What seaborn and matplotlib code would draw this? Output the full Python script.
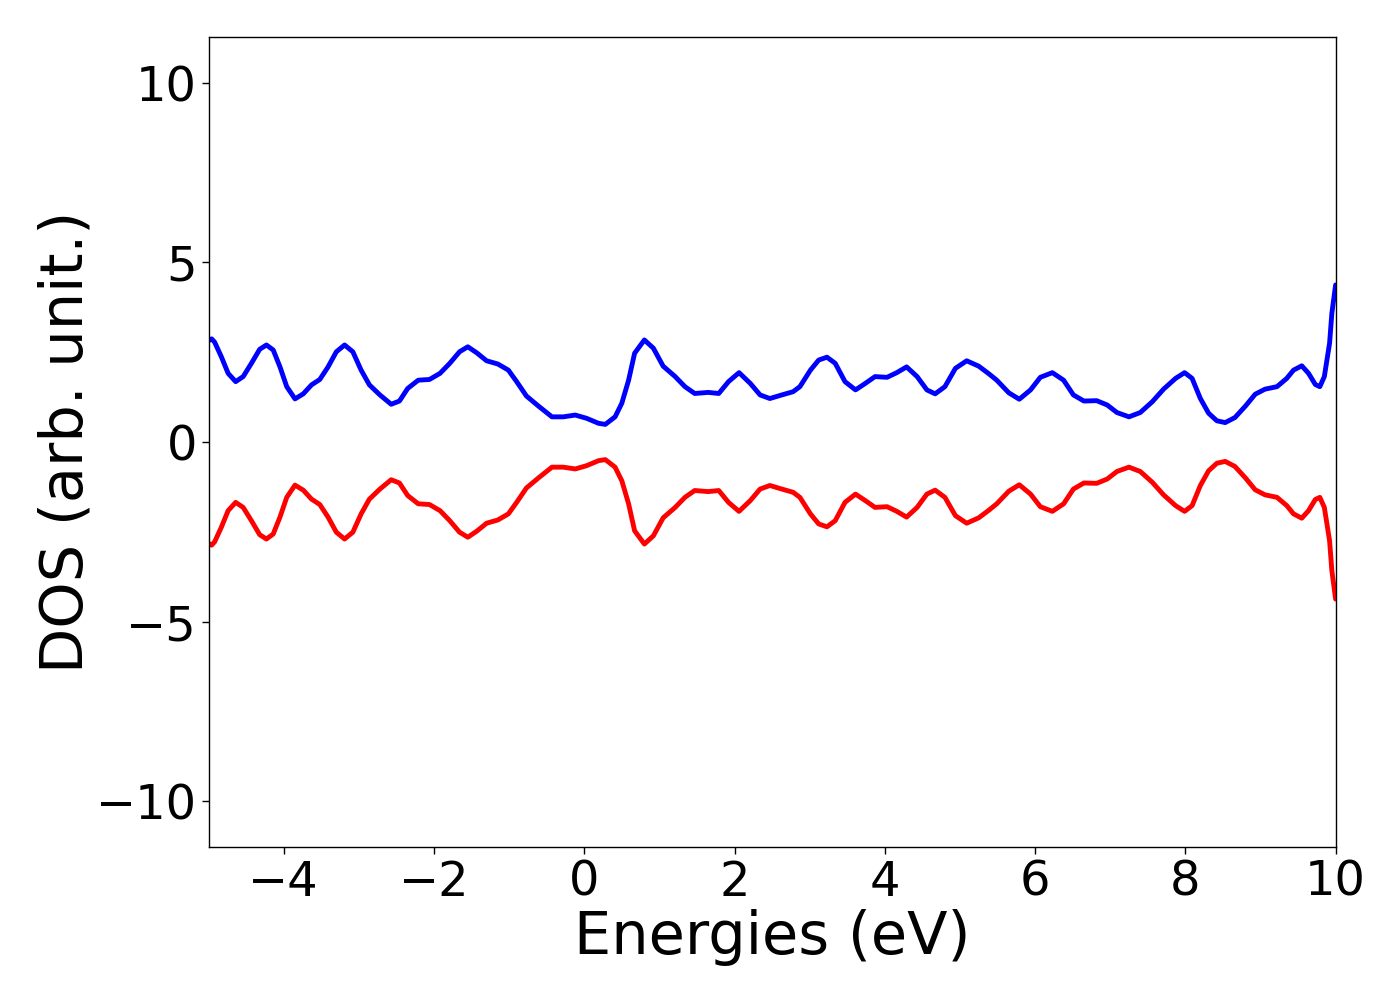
import matplotlib
matplotlib.use("Agg")
import matplotlib.pyplot as plt
import seaborn as sns
import numpy as np
import pandas as pd

# Energies (eV) and spin-up DOS
energies = [
    -5.00, -4.96, -4.92, -4.83, -4.74, -4.64, -4.54, -4.43, -4.32, -4.23,
    -4.14, -4.05, -3.96, -3.85, -3.74, -3.63, -3.52, -3.41, -3.30, -3.19,
    -3.08, -2.97, -2.86, -2.72, -2.57, -2.46, -2.35, -2.21, -2.06, -1.92,
    -1.79, -1.66, -1.55, -1.43, -1.30, -1.15, -1.01, -0.90, -0.77, -0.61,
    -0.43, -0.28, -0.12, 0.03, 0.19, 0.28, 0.41, 0.50, 0.59, 0.67,
    0.80, 0.92, 1.05, 1.21, 1.34, 1.47, 1.65, 1.79, 1.92, 2.06,
    2.21, 2.34, 2.47, 2.63, 2.78, 2.87, 3.01, 3.12, 3.23, 3.34,
    3.47, 3.61, 3.74, 3.87, 4.03, 4.16, 4.29, 4.43, 4.56, 4.67,
    4.80, 4.94, 5.09, 5.25, 5.39, 5.49, 5.65, 5.79, 5.94, 6.07,
    6.23, 6.38, 6.51, 6.65, 6.82, 6.96, 7.09, 7.25, 7.40, 7.56,
    7.71, 7.87, 7.99, 8.09, 8.20, 8.31, 8.42, 8.53, 8.66, 8.80,
    8.93, 9.06, 9.22, 9.35, 9.44, 9.55, 9.64, 9.73, 9.79, 9.85,
    9.92, 9.95, 10.00,
]
dos_up = [
    2.82, 2.87, 2.78, 2.37, 1.91, 1.68, 1.82, 2.19, 2.58, 2.70,
    2.56, 2.09, 1.54, 1.20, 1.34, 1.59, 1.74, 2.09, 2.51, 2.70,
    2.51, 2.00, 1.59, 1.31, 1.05, 1.14, 1.49, 1.72, 1.74, 1.91,
    2.19, 2.51, 2.65, 2.48, 2.26, 2.17, 2.00, 1.68, 1.28, 1.00,
    0.70, 0.70, 0.75, 0.66, 0.52, 0.49, 0.70, 1.08, 1.72, 2.47,
    2.84, 2.61, 2.11, 1.82, 1.54, 1.35, 1.38, 1.35, 1.68, 1.93,
    1.63, 1.31, 1.21, 1.31, 1.40, 1.54, 2.00, 2.28, 2.36, 2.19,
    1.68, 1.45, 1.63, 1.82, 1.80, 1.93, 2.09, 1.82, 1.45, 1.34,
    1.54, 2.05, 2.26, 2.11, 1.89, 1.72, 1.37, 1.19, 1.45, 1.80,
    1.93, 1.72, 1.31, 1.14, 1.15, 1.03, 0.82, 0.70, 0.82, 1.12,
    1.47, 1.77, 1.93, 1.77, 1.21, 0.80, 0.59, 0.54, 0.68, 1.00,
    1.33, 1.47, 1.54, 1.77, 2.00, 2.12, 1.91, 1.60, 1.54, 1.82,
    2.75, 3.58, 4.37,
]
# spin-down channel is the mirror image in the reference
dos_down = [-v for v in dos_up]

xticks = [-4, -2, 0, 2, 4, 6, 8, 10]
yticks = [-10, -5, 0, 5, 10]

df = pd.DataFrame({"E": energies, "up": dos_up, "down": dos_down})

fig = plt.figure(figsize=(14, 10), dpi=100)
ax = fig.add_axes([0.149, 0.153, 0.805, 0.810])

sns.lineplot(data=df, x="E", y="up", color="blue", linewidth=3.5, ax=ax,
             sort=False, estimator=None, solid_joinstyle="round", solid_capstyle="round")
sns.lineplot(data=df, x="E", y="down", color="red", linewidth=3.5, ax=ax,
             sort=False, estimator=None, solid_joinstyle="round", solid_capstyle="round")

ax.set_xlim(-5, 10)
ax.set_ylim(-11.27, 11.27)
ax.set_xticks(xticks)
ax.set_yticks(yticks)
ax.set_xticklabels(["\u2212" + str(-t) if t < 0 else str(t) for t in xticks])
ax.set_yticklabels(["\u2212" + str(-t) if t < 0 else str(t) for t in yticks])
ax.tick_params(axis="both", labelsize=34.5, length=5, width=1)
ax.set_xlabel("Energies (eV)", fontsize=42.5, labelpad=2)
ax.set_ylabel("DOS (arb. unit.)", fontsize=42.5, labelpad=1)
for s in ax.spines.values():
    s.set_visible(True)
    s.set_linewidth(1)
    s.set_color("black")

fig.savefig("out.png", dpi=100)
